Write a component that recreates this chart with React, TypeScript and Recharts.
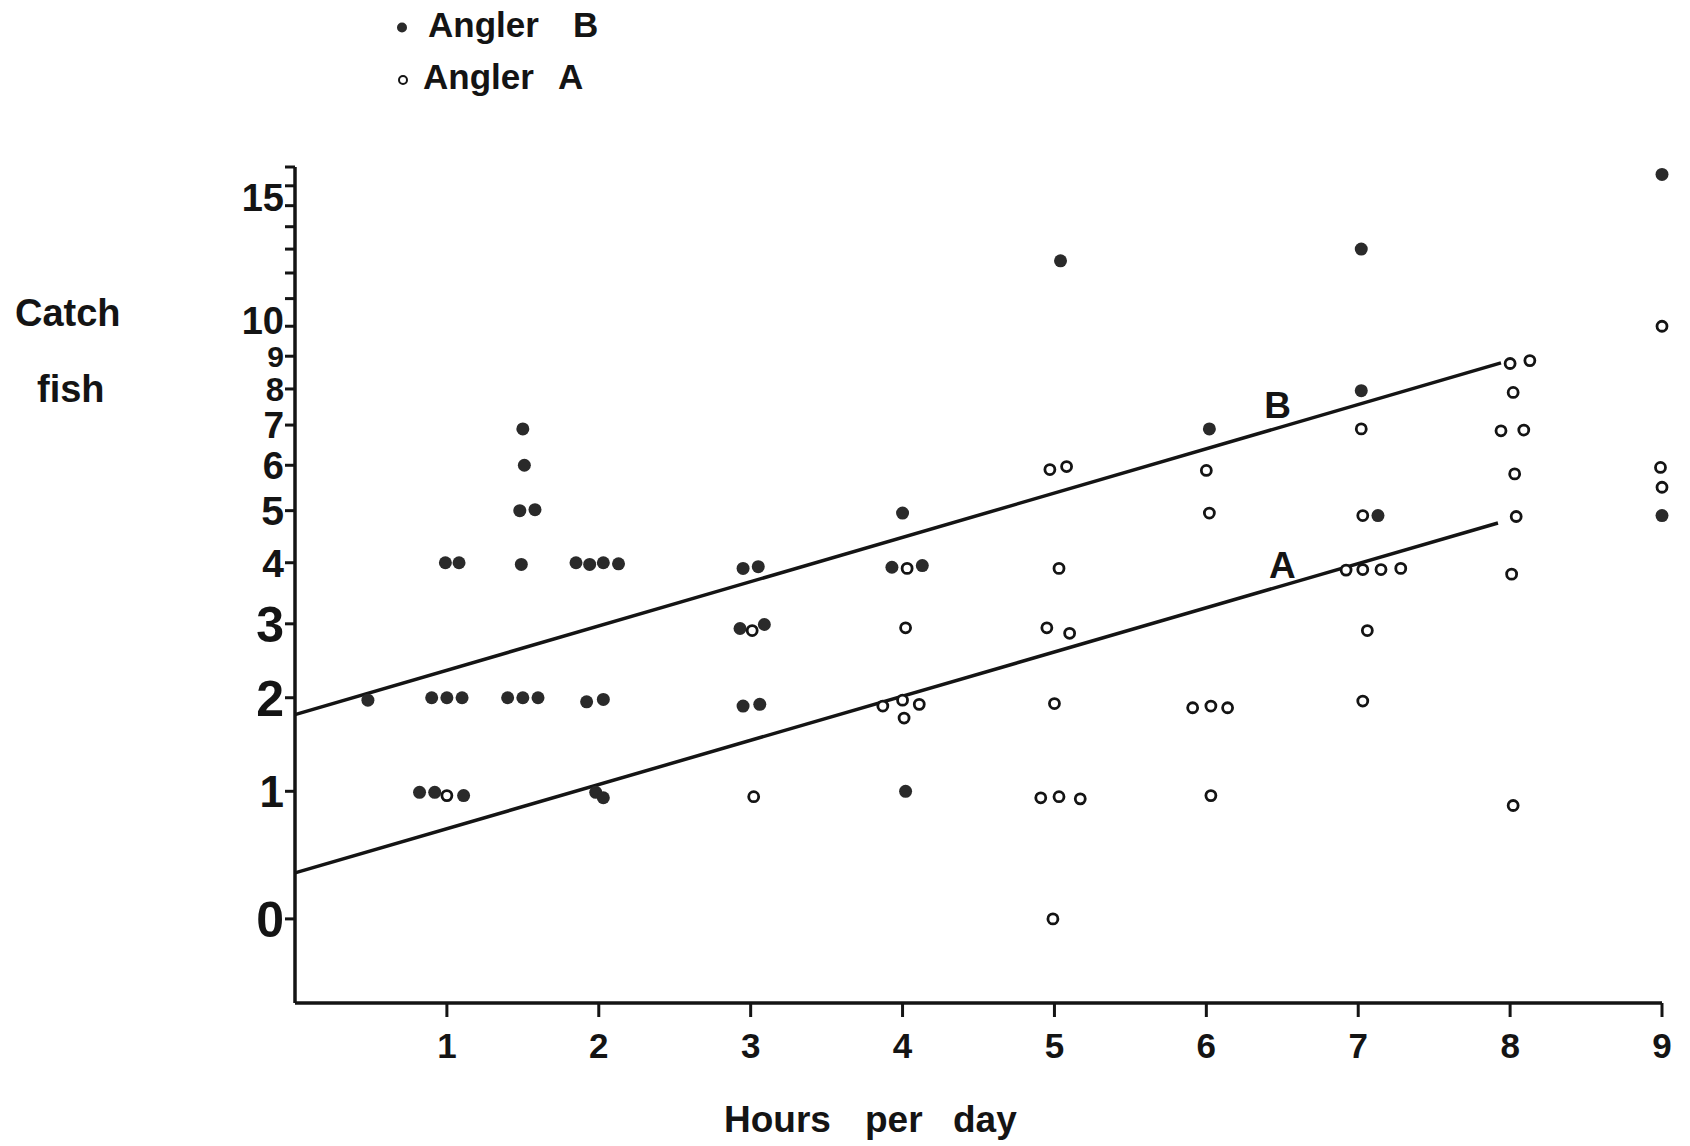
import React from 'react';
import { ScatterChart, Scatter, XAxis, YAxis } from 'recharts';

// ---------- data ----------
const xTicks = [1, 2, 3, 4, 5, 6, 7, 8, 9];
const yLabelTicks = [0, 1, 2, 3, 4, 5, 6, 7, 8, 9, 10, 15];
const yMinorTicks = [11, 12, 13, 14, 16, 17];

// Angler B (filled dots): hours per day (jittered as drawn) and catch
const anglerBHours = [
  0.48, 0.82, 0.92, 1.11, 0.9, 1.0, 1.1, 0.99, 1.08,
  1.5, 1.51, 1.48, 1.58, 1.49, 1.4, 1.5, 1.6,
  1.85, 1.94, 2.03, 2.13, 1.92, 2.03, 1.98, 2.03,
  2.95, 3.05, 2.93, 3.09, 2.95, 3.06,
  4.0, 3.93, 4.13, 4.02,
  5.04, 6.02, 7.02, 7.02, 7.13, 9.0, 9.0,
];
const anglerBCatch = [
  1.97, 0.99, 0.99, 0.96, 2, 2, 2, 4, 4,
  6.9, 6, 5, 5.02, 3.97, 2, 2, 2,
  4, 3.97, 4, 3.98, 1.95, 1.98, 0.99, 0.94,
  3.9, 3.93, 2.93, 2.99, 1.9, 1.92,
  4.95, 3.92, 3.95, 1.0,
  12.5, 6.9, 13.0, 7.95, 4.9, 16.6, 4.9,
];

// Angler A (open circles)
const anglerAHours = [
  1.0, 3.01, 3.02,
  4.03, 4.02, 3.87, 4.0, 4.11, 4.01,
  4.97, 5.08, 5.03, 4.95, 5.1, 5.0, 4.91, 5.03, 5.17, 4.99,
  6.0, 6.02, 5.91, 6.03, 6.14, 6.03,
  7.02, 7.03, 6.92, 7.03, 7.15, 7.28, 7.06, 7.03,
  8.0, 8.13, 8.02, 7.94, 8.09, 8.03, 8.04, 8.01, 8.02,
  9.0, 8.99, 9.0,
];
const anglerACatch = [
  0.96, 2.9, 0.95,
  3.9, 2.94, 1.9, 1.97, 1.92, 1.76,
  5.9, 5.97, 3.9, 2.94, 2.86, 1.93, 0.94, 0.95, 0.93, 0,
  5.88, 4.95, 1.88, 1.9, 1.88, 0.96,
  6.9, 4.9, 3.87, 3.88, 3.88, 3.9, 2.9, 1.96,
  8.77, 8.86, 7.9, 6.85, 6.87, 5.8, 4.88, 3.8, 0.87,
  10, 5.95, 5.5,
];

// fitted lines (end points)
const lineBHours = [0, 7.94];
const lineBCatch = [1.8, 8.79];
const lineAHours = [0, 7.92];
const lineACatch = [0.32, 4.75];

const lineLabelText = ['B', 'A'];
const lineLabelHours = [6.47, 6.5];
const lineLabelCatch = [7.54, 3.97];

// ---------- scale transform (catch axis is compressed) ----------
const T = (v: number) => Math.log10(v + 2.3);
const Y_MIN = -0.487;
const Y_MAX = 17;

const toRows = (hs: number[], cs: number[]) =>
  hs.map((h, i) => ({ hours: h, catch: cs[i], t: T(cs[i]) }));

const dataB = toRows(anglerBHours, anglerBCatch);
const dataA = toRows(anglerAHours, anglerACatch);
const lineB = toRows(lineBHours, lineBCatch);
const lineA = toRows(lineAHours, lineACatch);
const labelRows = lineLabelText.map((s, i) => ({
  hours: lineLabelHours[i],
  catch: lineLabelCatch[i],
  t: T(lineLabelCatch[i]),
  label: s,
}));

const yTickValues = [...yLabelTicks, ...yMinorTicks].sort((a, b) => a - b).map(T);

const FONT = '"Liberation Sans", Arial, Helvetica, sans-serif';
const INK = '#141414';

const yFontSizes: Record<number, number> = {
  0: 50, 1: 44, 2: 50, 3: 50, 4: 39, 5: 41, 6: 38, 7: 37, 8: 33, 9: 30, 10: 38, 15: 38,
};
// small vertical nudges of hand-lettered labels
const yLabelShift: Record<number, number> = { 10: -6, 15: -8 };

function YTick(props: any) {
  const { x, y, payload } = props;
  const raw = Math.pow(10, payload.value) - 2.3;
  const r = Math.round(raw);
  if (Math.abs(raw - r) > 0.01 || !yLabelTicks.includes(r)) return <g />;
  return (
    <text
      x={x}
      y={y + (yLabelShift[r] || 0)}
      dy="0.36em"
      textAnchor="end"
      fontSize={yFontSizes[r]}
      fontWeight="bold"
      fontFamily={FONT}
      fill={INK}
    >
      {r}
    </text>
  );
}

const FilledDot = (p: any) => <circle cx={p.cx} cy={p.cy} r={6.5} fill="#2a2a2a" />;
const OpenDot = (p: any) => (
  <circle cx={p.cx} cy={p.cy} r={5} fill="#ffffff" stroke={INK} strokeWidth={2.8} />
);
const NoDot = () => <g />;
const LineLabel = (p: any) => (
  <text
    x={p.cx}
    y={p.cy}
    dy="0.36em"
    textAnchor="middle"
    fontSize={37}
    fontWeight="bold"
    fontFamily={FONT}
    fill={INK}
  >
    {p.payload ? p.payload.label : ''}
  </text>
);

export default function App() {
  return (
    <div style={{ position: 'relative', width: 1690, height: 1146, background: '#fff' }}>
      <style>{`body{margin:0;background:#fff;}`}</style>
      <ScatterChart width={1690} height={1146} margin={{ top: 167, right: 28, bottom: 63, left: 200 }}>
        <XAxis
          type="number"
          dataKey="hours"
          domain={[0, 9]}
          ticks={xTicks}
          interval={0}
          height={80}
          tickSize={14}
          tickMargin={16}
          axisLine={{ stroke: INK, strokeWidth: 3.5 }}
          tickLine={{ stroke: INK, strokeWidth: 3 }}
          tick={{ fontSize: 35, fontWeight: 'bold', fill: INK, fontFamily: FONT }}
        />
        <YAxis
          type="number"
          dataKey="t"
          domain={[T(Y_MIN), T(Y_MAX)]}
          ticks={yTickValues}
          interval={0}
          width={95}
          tickSize={10}
          tickMargin={1}
          axisLine={{ stroke: INK, strokeWidth: 3.5 }}
          tickLine={{ stroke: INK, strokeWidth: 3 }}
          tick={<YTick />}
        />
        <Scatter
          data={lineB}
          line={{ stroke: INK, strokeWidth: 3.5 }}
          shape={NoDot}
          isAnimationActive={false}
        />
        <Scatter
          data={lineA}
          line={{ stroke: INK, strokeWidth: 3.5 }}
          shape={NoDot}
          isAnimationActive={false}
        />
        <Scatter data={dataB} shape={FilledDot} isAnimationActive={false} />
        <Scatter data={dataA} shape={OpenDot} isAnimationActive={false} />
        <Scatter data={labelRows} shape={LineLabel} isAnimationActive={false} />
      </ScatterChart>
      <svg
        width={1690}
        height={1146}
        style={{ position: 'absolute', left: 0, top: 0, pointerEvents: 'none' }}
      >
        <g fontFamily={FONT} fontWeight="bold" fill={INK}>
          <circle cx={402} cy={27.5} r={5} fill="#2a2a2a" />
          <text fontSize={35} y={37}>
            <tspan x={428}>Angler</tspan>
            <tspan x={573}>B</tspan>
          </text>
          <circle cx={403} cy={80} r={4} fill="#fff" stroke={INK} strokeWidth={2} />
          <text fontSize={35} y={89}>
            <tspan x={423}>Angler</tspan>
            <tspan x={558}>A</tspan>
          </text>
          <text fontSize={38} x={15} y={326}>Catch</text>
          <text fontSize={38} x={37} y={402}>fish</text>
          <text fontSize={37} y={1132}>
            <tspan x={724}>Hours</tspan>
            <tspan x={865}>per</tspan>
            <tspan x={953}>day</tspan>
          </text>
        </g>
      </svg>
    </div>
  );
}
